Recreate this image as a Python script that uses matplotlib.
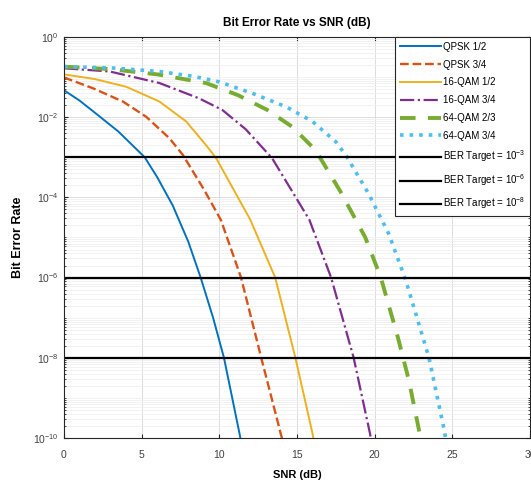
import numpy as np
import matplotlib
matplotlib.use("Agg")
import matplotlib.pyplot as plt
from matplotlib.ticker import LogLocator, NullFormatter

plt.rcParams['font.family'] = ['Liberation Sans', 'DejaVu Sans']
plt.rcParams['mathtext.fontset'] = 'custom'
plt.rcParams['mathtext.rm'] = 'Liberation Sans'

# values (SNR in dB, BER)
snr_qpsk_12 = [0, 1.0, 1.9, 3.5, 5.2, 6.0, 7.0, 8.0, 8.8, 9.6, 10.3, 11.3, 11.4]
ber_qpsk_12 = [4.7e-2, 2.6e-2, 1.38e-2, 4.4e-3, 1.0e-3, 3.2e-4, 6.3e-5, 7.9e-6, 1.0e-6, 1.0e-7, 1.0e-8, 1.3e-10, 8e-11]

snr_qpsk_34 = [0, 1.9, 3.8, 5.3, 6.8, 7.65, 9.0, 10.1, 11.4, 12.7, 14.0, 14.1]
ber_qpsk_34 = [9.8e-2, 5.2e-2, 2.45e-2, 1.02e-2, 2.95e-3, 1.15e-3, 1.6e-4, 2.75e-5, 1.0e-6, 1.0e-8, 1.1e-10, 8e-11]

snr_16qam_12 = [0, 2.0, 4.0, 6.15, 7.87, 9.15, 9.8, 12.0, 13.6, 14.9, 16.0, 16.1]
ber_16qam_12 = [1.17e-1, 8.9e-2, 5.75e-2, 2.45e-2, 7.8e-3, 2.0e-3, 9.5e-4, 2.75e-5, 1.0e-6, 1.0e-8, 1.3e-10, 8e-11]

snr_16qam_34 = [0, 2.95, 6.15, 8.7, 10.2, 11.7, 13.4, 15.8, 17.2, 18.65, 19.7, 19.8]
ber_16qam_34 = [1.66e-1, 1.38e-1, 7.1e-2, 2.95e-2, 1.51e-2, 5.0e-3, 9.5e-4, 2.75e-5, 1.0e-6, 1.0e-8, 1.3e-10, 8e-11]

snr_64qam_23 = [0, 3, 6, 9.15, 11.2, 13.1, 14.7, 16.2, 17.8, 19.4, 20.4, 21.5, 22.2, 22.9, 23.0]
ber_64qam_23 = [1.82e-1, 1.58e-1, 1.17e-1, 7.1e-2, 3.55e-2, 1.51e-2, 5.75e-3, 1.5e-3, 1.4e-4, 1.0e-5, 1.0e-6, 3.2e-8, 2.8e-9, 1.3e-10, 8e-11]

snr_64qam_34 = [0, 3, 6.15, 8.3, 10.0, 12.1, 14.3, 16.0, 17.5, 18.2, 19.6, 20.9, 22.0, 23.5, 24.5, 24.6]
ber_64qam_34 = [1.82e-1, 1.7e-1, 1.38e-1, 1.05e-1, 7.6e-2, 3.98e-2, 1.82e-2, 7.8e-3, 2.45e-3, 1.05e-3, 1.26e-4, 1.26e-5, 8.7e-7, 1.0e-8, 1.45e-10, 8e-11]

ber_targets = [1e-3, 1e-6, 1e-8]
target_labels = [r'BER Target = $10^{-3}$', r'BER Target = $10^{-6}$', r'BER Target = $10^{-8}$']

x_ticks = [0, 5, 10, 15, 20, 25, 30]
y_ticks = [1e0, 1e-2, 1e-4, 1e-6, 1e-8, 1e-10]


def main():
    fig = plt.figure(figsize=(5.31, 4.83), dpi=100)
    ax = fig.add_axes([0.1205, 0.0932, 0.8775, 0.8302])

    ax.semilogy(snr_qpsk_12, ber_qpsk_12, '-', color='#0072BD', lw=1.4, label='QPSK 1/2')
    ax.semilogy(snr_qpsk_34, ber_qpsk_34, '--', color='#D95319', lw=1.7, label='QPSK 3/4')
    ax.semilogy(snr_16qam_12, ber_16qam_12, '-', color='#EDB120', lw=1.4, label='16-QAM 1/2')
    ax.semilogy(snr_16qam_34, ber_16qam_34, '-.', color='#7E2F8E', lw=1.6, label='16-QAM 3/4')
    ax.semilogy(snr_64qam_23, ber_64qam_23, '--', color='#77AC30', lw=2.8,
                dashes=(4, 3.2), label='64-QAM 2/3')
    ax.semilogy(snr_64qam_34, ber_64qam_34, ':', color='#4DBEEE', lw=2.6, label='64-QAM 3/4')

    for val, lab in zip(ber_targets, target_labels):
        ax.axhline(val, color='black', lw=1.6, label=lab)

    ax.set_xlim(0, 30)
    ax.set_ylim(1e-10, 1e0)
    ax.set_xticks(x_ticks)
    ax.set_yticks(y_ticks)
    ax.yaxis.set_minor_locator(LogLocator(base=10, subs=np.arange(1, 10), numticks=60))
    ax.yaxis.set_minor_formatter(NullFormatter())

    ax.grid(True, which='major', color='#dcdcdc', lw=0.7)
    ax.grid(True, which='minor', axis='y', color='#f0f0f0', lw=0.6)
    ax.set_axisbelow(True)

    ax.tick_params(which='both', direction='in', top=True, right=True,
                   labelsize=7.5, colors='#262626', labelcolor='#404040')
    ax.tick_params(which='major', length=3)
    ax.tick_params(which='minor', length=1.5)
    ax.tick_params(axis='x', pad=9)
    ax.tick_params(axis='y', pad=4)
    for sp in ax.spines.values():
        sp.set_color('#262626')
        sp.set_linewidth(0.8)

    ax.set_title('Bit Error Rate vs SNR (dB)', fontsize=8.5, fontweight='bold', pad=8)
    ax.set_xlabel('SNR (dB)', fontsize=8, fontweight='bold', labelpad=7)
    ax.set_ylabel('Bit Error Rate', fontsize=9, fontweight='bold', labelpad=6)

    leg = ax.legend(loc='upper right', bbox_to_anchor=(1.0, 1.0), borderaxespad=0,
                    fontsize=7, handlelength=4.2, handletextpad=0.2,
                    labelspacing=0.8, fancybox=False, framealpha=1,
                    edgecolor='#262626', borderpad=0.5)
    leg.get_frame().set_linewidth(0.8)

    fig.savefig('out.png', dpi=100)


if __name__ == "__main__":
    main()
